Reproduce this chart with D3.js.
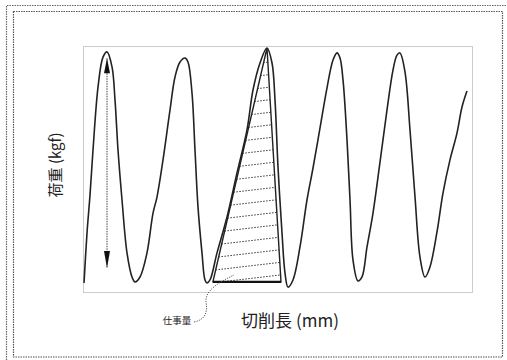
<!DOCTYPE html>
<html>
<head>
<meta charset="utf-8">
<script src="https://cdn.jsdelivr.net/npm/d3@7"></script>
<style>
  html, body { margin: 0; padding: 0; background: #fff; }
  svg { display: block; }
  text { font-family: "Noto Sans CJK JP", "Noto Sans", sans-serif; fill: #222; }
</style>
</head>
<body>
<svg id="chart" width="507" height="360"></svg>
<script>
// Cutting length (relative units) and measured load (relative units)
const lengthMm = [0.26, 1.03, 1.80, 2.57, 3.86, 5.14, 6.17, 7.46, 8.23, 9.00, 10.03, 11.31, 12.60, 13.37,
  14.65, 16.45, 18.0, 19.02, 20.57, 22.37, 23.65, 24.94, 26.22, 26.99, 28.02, 28.79, 29.56, 30.59,
  31.36, 31.88, 32.65, 34.45, 37.02, 39.59, 42.16, 43.70, 45.50, 47.30, 48.59, 49.36, 50.13, 51.16,
  51.93, 52.70, 53.98, 55.78, 57.58, 59.13, 60.93, 62.72, 64.27, 65.30, 66.07, 66.84, 67.87, 68.64,
  69.41, 70.69, 71.72, 73.01, 74.55, 76.35, 78.15, 79.69, 80.72, 81.49, 82.78, 84.06, 85.35, 86.63,
  87.92, 89.20, 91.00, 92.54, 94.34, 96.14, 97.43, 98.71];
const loadKgf = [3.7, 24.0, 39.4, 57.7, 83.3, 95.5, 97.6, 91.5, 78.0, 57.7, 37.4, 15.9, 6.1, 4.1,
  6.1, 15.9, 32.1, 38.6, 53.7, 74.0, 87.4, 93.5, 95.1, 93.5, 80.9, 57.7, 34.6, 15.9,
  4.9, 3.7, 4.9, 15.9, 30.5, 48.4, 65.9, 82.1, 93.1, 99.2, 93.1, 78.0, 50.8, 24.0,
  7.7, 2.0, 4.9, 18.3, 37.4, 50.4, 66.7, 82.9, 94.3, 97.2, 95.1, 86.2, 61.8, 37.4,
  13.0, 4.5, 6.1, 18.3, 32.1, 52.8, 74.0, 90.2, 96.3, 97.2, 89.4, 65.9, 38.6, 14.2,
  6.1, 10.2, 24.4, 40.2, 53.7, 64.6, 75.2, 81.7];

// Work region (triangle) vertices
const workLength = [33.4, 50.9, 47.3];
const workLoad = [4.1, 4.1, 99.2];

// Peak load arrow (from / to)
const arrowLength = [6.17, 6.17];
const arrowLoad = [95.0, 9.8];

// Labels
const yLabel = "荷重 (kgf)";
const xLabel = "切削長 (mm)";
const workLabel = "仕事量";

const svg = d3.select("#chart");
const W = 507, H = 360;
const plot = { left: 83, right: 472, top: 46, bottom: 292 };

const x = d3.scaleLinear().domain([0, 100]).range([plot.left, plot.right]);
const y = d3.scaleLinear().domain([0, 100]).range([plot.bottom, plot.top]);

// Page frames (dotted)
svg.append("path")
  .attr("d", `M6.5,${H} V5.5 H${W}`)
  .attr("fill", "none").attr("stroke", "#666").attr("stroke-width", 1.2)
  .attr("stroke-dasharray", "1.5,1");
svg.append("rect")
  .attr("x", 13.5).attr("y", 11.5).attr("width", 489).attr("height", 345.5)
  .attr("fill", "none").attr("stroke", "#555").attr("stroke-width", 1.2)
  .attr("stroke-dasharray", "1.5,1");

// Plot frame (dotted)
svg.append("rect")
  .attr("x", plot.left + 0.5).attr("y", plot.top + 0.5)
  .attr("width", plot.right - plot.left).attr("height", plot.bottom - plot.top)
  .attr("fill", "none").attr("stroke", "#999").attr("stroke-width", 1.1)
  .attr("stroke-dasharray", "1,1");

// Work triangle with hatching
const tri = workLength.map((d, i) => [x(d), y(workLoad[i])]);
const defs = svg.append("defs");
defs.append("clipPath").attr("id", "workClip")
  .append("polygon").attr("points", tri.map(p => p.join(",")).join(" "));

const hatch = svg.append("g").attr("clip-path", "url(#workClip)");
const hatchStep = 12.6;
for (let yy = y(workLoad[0]) - 3; yy > y(100) - 10; yy -= hatchStep) {
  hatch.append("line")
    .attr("x1", x(31)).attr("y1", yy + 5)
    .attr("x2", x(53)).attr("y2", yy - 5)
    .attr("stroke", "#333").attr("stroke-width", 1)
    .attr("stroke-dasharray", "1.5,1.5");
}

svg.append("polygon")
  .attr("points", tri.map(p => p.join(",")).join(" "))
  .attr("fill", "none").attr("stroke", "#222").attr("stroke-width", 1.4)
  .attr("stroke-linejoin", "miter");
// heavier base line
svg.append("line")
  .attr("x1", tri[0][0]).attr("y1", tri[0][1])
  .attr("x2", tri[1][0]).attr("y2", tri[1][1])
  .attr("stroke", "#111").attr("stroke-width", 2.2);

// Load curve
const line = d3.line()
  .x((d, i) => x(lengthMm[i]))
  .y(d => y(d))
  .curve(d3.curveCatmullRom.alpha(0.5));
svg.append("path")
  .datum(loadKgf)
  .attr("d", line)
  .attr("fill", "none").attr("stroke", "#222").attr("stroke-width", 1.6)
  .attr("stroke-linejoin", "round");

// Peak load arrow
const ax = x(arrowLength[0]);
const aTop = y(arrowLoad[0]), aBot = y(arrowLoad[1]);
svg.append("line")
  .attr("x1", ax).attr("y1", aTop).attr("x2", ax).attr("y2", aBot)
  .attr("stroke", "#444").attr("stroke-width", 1)
  .attr("stroke-dasharray", "1.5,1");
svg.append("path")
  .attr("d", `M${ax},${aTop} L${ax - 3},${aTop + 15} L${ax + 3},${aTop + 15} Z`)
  .attr("fill", "#111");
svg.append("path")
  .attr("d", `M${ax},${aBot} L${ax - 3},${aBot - 17} L${ax + 3},${aBot - 17} Z`)
  .attr("fill", "#111");

// Axis titles
svg.append("text")
  .attr("transform", `translate(61,165) rotate(-90)`)
  .attr("text-anchor", "middle")
  .attr("font-size", 15)
  .text(yLabel);
svg.append("text")
  .attr("x", 290).attr("y", 327)
  .attr("text-anchor", "middle")
  .attr("font-size", 17)
  .text(xLabel);

// Work annotation with leader
svg.append("text")
  .attr("x", 177).attr("y", 324)
  .attr("text-anchor", "middle")
  .attr("font-size", 9.5)
  .attr("fill", "#555")
  .text(workLabel);
svg.append("path")
  .attr("d", "M194,322 C205,320 208,312 206,302 C205,292 215,284 234,275")
  .attr("fill", "none").attr("stroke", "#555").attr("stroke-width", 1)
  .attr("stroke-dasharray", "1.2,1.2");
</script>
</body>
</html>
